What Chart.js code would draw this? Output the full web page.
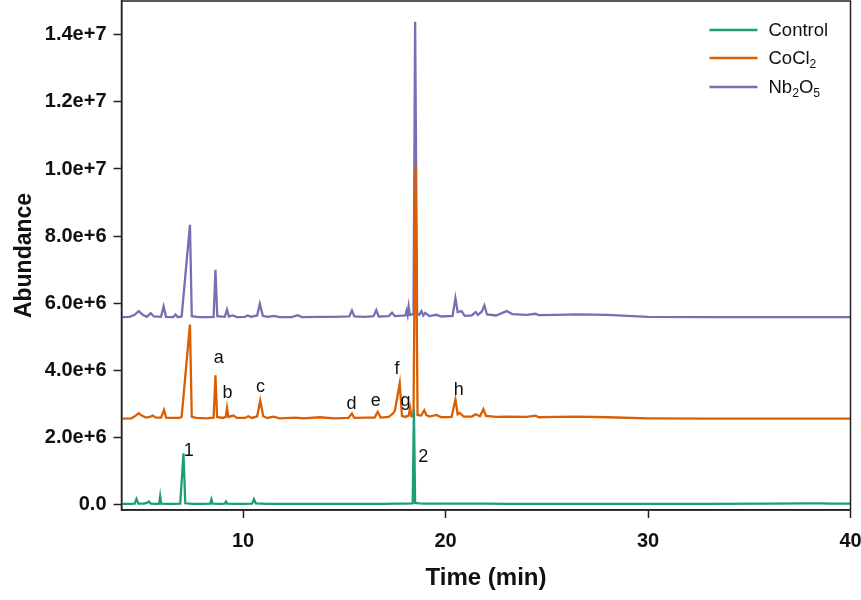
<!DOCTYPE html>
<html>
<head>
<meta charset="utf-8">
<title>Chromatogram</title>
<script src="https://cdn.jsdelivr.net/npm/chart.js@4.4.1/dist/chart.umd.min.js"></script>
<style>
  html, body { margin: 0; padding: 0; background: #fff; }
  .chart-wrap { width: 861px; height: 600px; position: relative; }
</style>
</head>
<body>
<div class="chart-wrap"><canvas id="chart"></canvas></div>
<script>
// abundance values are in millions (1e6)
const seriesLabels = ['Control', 'CoCl₂', 'Nb₂O₅'];
const seriesColors = ['#1b9e77', '#d95f02', '#7570b3'];

const controlTime = [4.0, 4.4, 4.65, 4.74, 4.83, 5.1, 5.25, 5.35, 5.45, 5.7, 5.86, 5.91, 5.96, 6.3, 6.6,
  6.9, 7.06, 7.15, 7.5, 8.0, 8.38, 8.44, 8.5, 8.9, 9.1, 9.16, 9.22, 9.6, 10.0, 10.45, 10.54, 10.63,
  11.2, 12.0, 13.0, 14.0, 15.0, 16.0, 17.0, 17.6, 18.0, 18.38, 18.44, 18.5, 18.7, 19.0, 20.0, 21.0,
  22.0, 23.0, 25.0, 28.0, 30.0, 33.0, 36.0, 38.0, 38.5, 39.0, 40.0];
const controlAbundance = [0.03, 0.03, 0.04, 0.18, 0.04, 0.04, 0.06, 0.1, 0.04, 0.03, 0.04, 0.26, 0.04, 0.03, 0.03,
  0.04, 1.54, 0.05, 0.03, 0.03, 0.04, 0.17, 0.04, 0.03, 0.04, 0.1, 0.04, 0.03, 0.03, 0.04, 0.17, 0.05,
  0.03, 0.03, 0.03, 0.03, 0.03, 0.03, 0.03, 0.04, 0.04, 0.05, 2.85, 0.06, 0.05, 0.04, 0.04, 0.04,
  0.04, 0.03, 0.03, 0.03, 0.03, 0.03, 0.04, 0.05, 0.05, 0.04, 0.04];

const cocl2Time = [4.0, 4.5, 4.7, 4.85, 5.0, 5.2, 5.4, 5.54, 5.7, 5.95, 6.1, 6.2, 6.5, 6.85, 6.97, 7.38, 7.47,
  7.7, 8.2, 8.55, 8.64, 8.72, 9.0, 9.15, 9.21, 9.28, 9.52, 9.7, 10.1, 10.26, 10.45, 10.7, 10.85, 11.0,
  11.2, 11.52, 11.8, 12.6, 13.0, 13.8, 14.5, 15.2, 15.38, 15.5, 16.0, 16.5, 16.65, 16.8, 17.2, 17.4,
  17.5, 17.74, 17.85, 18.0, 18.18, 18.25, 18.32, 18.42, 18.52, 18.62, 18.8, 18.95, 19.05, 19.2, 19.55,
  19.8, 20.3, 20.49, 20.6, 20.7, 20.9, 21.3, 21.49, 21.7, 21.87, 22.0, 22.5, 23.0, 24.0, 24.45, 24.6,
  25.5, 26.5, 28.0, 30.0, 33.0, 36.0, 40.0];
const cocl2Abundance = [2.57, 2.58, 2.66, 2.73, 2.66, 2.6, 2.62, 2.66, 2.6, 2.6, 2.83, 2.6, 2.59, 2.59, 2.62, 5.37, 2.62,
  2.59, 2.58, 2.6, 3.86, 2.62, 2.59, 2.62, 2.89, 2.62, 2.66, 2.59, 2.59, 2.64, 2.59, 2.64, 3.11, 2.64,
  2.59, 2.63, 2.58, 2.6, 2.58, 2.61, 2.58, 2.59, 2.72, 2.59, 2.6, 2.6, 2.77, 2.6, 2.62, 2.72,
  2.8, 3.62, 2.65, 2.62, 2.66, 2.9, 2.64, 2.66, 10.1, 2.68, 2.66, 2.82, 2.68, 2.63, 2.68,
  2.61, 2.62, 3.14, 2.7, 2.74, 2.63, 2.63, 2.7, 2.64, 2.85, 2.65, 2.62, 2.63, 2.62, 2.66, 2.61,
  2.62, 2.63, 2.61, 2.58, 2.57, 2.57, 2.57];

const nb2o5Time = [4.0, 4.4, 4.65, 4.85, 5.05, 5.25, 5.44, 5.6, 5.95, 6.08, 6.2, 6.55, 6.67, 6.78, 6.97, 7.38,
  7.47, 7.8, 8.2, 8.55, 8.64, 8.73, 9.1, 9.21, 9.3, 9.49, 9.7, 10.1, 10.23, 10.4, 10.7, 10.83, 10.98,
  11.2, 11.52, 11.8, 12.4, 12.7, 12.9, 13.8, 14.5, 15.25, 15.38, 15.5, 16.0, 16.45, 16.58, 16.7, 17.2,
  17.36, 17.5, 18.02, 18.08, 18.13, 18.18, 18.24, 18.42, 18.5, 18.6, 18.7, 18.81, 18.9, 19.0, 19.2,
  19.55, 19.8, 20.35, 20.49, 20.6, 20.79, 20.95, 21.3, 21.49, 21.6, 21.79, 21.92, 22.05, 22.5, 23.02,
  23.3, 24.0, 24.45, 24.6, 25.5, 26.5, 28.0, 30.0, 33.0, 36.0, 40.0];
const nb2o5Abundance = [5.59, 5.6, 5.66, 5.77, 5.66, 5.6, 5.71, 5.61, 5.6, 5.91, 5.6, 5.59, 5.67, 5.59, 5.61, 8.34,
  5.62, 5.59, 5.59, 5.6, 7.0, 5.62, 5.6, 5.82, 5.61, 5.64, 5.59, 5.6, 5.64, 5.6, 5.64, 5.99, 5.63,
  5.6, 5.63, 5.59, 5.59, 5.65, 5.59, 5.6, 5.6, 5.61, 5.79, 5.61, 5.6, 5.62, 5.8, 5.61, 5.62,
  5.72, 5.62, 5.64, 5.78, 5.65, 5.91, 5.66, 5.68, 14.38, 5.7, 5.66, 5.77, 5.64, 5.72, 5.62,
  5.66, 5.61, 5.63, 6.16, 5.74, 5.77, 5.63, 5.64, 5.74, 5.66, 5.75, 5.94, 5.67, 5.64, 5.77,
  5.68, 5.66, 5.69, 5.65, 5.66, 5.67, 5.66, 5.6, 5.59, 5.59, 5.59];

const xTicks = [10, 20, 30, 40];
const yTicks = [0, 2, 4, 6, 8, 10, 12, 14];
const yTickLabels = ['0.0', '2.0e+6', '4.0e+6', '6.0e+6', '8.0e+6', '1.0e+7', '1.2e+7', '1.4e+7'];

const peakLabels = ['1', '2', 'a', 'b', 'c', 'd', 'e', 'f', 'g', 'h'];
const peakLabelTime = [7.32, 18.9, 8.8, 9.23, 10.87, 15.36, 16.56, 17.61, 18.02, 20.66];
const peakLabelAbundance = [1.61, 1.43, 4.38, 3.34, 3.52, 3.0, 3.08, 4.06, 3.08, 3.41];

const FONT = '"Liberation Sans", Arial, sans-serif';
const INK = '#111';
const SUBSCRIPTS = '₀₁₂₃₄₅₆₇₈₉';

const toPoints = (times, values) => times.map((t, i) => ({ x: t, y: values[i] }));

// draws text where unicode subscript digits are set small and lowered
function drawRichText(ctx, text, x, y, size) {
  const runs = [];
  for (const ch of text) {
    const sub = SUBSCRIPTS.indexOf(ch) >= 0;
    const c = sub ? String(SUBSCRIPTS.indexOf(ch)) : ch;
    if (runs.length && runs[runs.length - 1].sub === sub) runs[runs.length - 1].text += c;
    else runs.push({ sub, text: c });
  }
  let cursor = x;
  runs.forEach((run) => {
    const s = run.sub ? size * 0.66 : size;
    ctx.font = `${s}px ${FONT}`;
    ctx.fillText(run.text, cursor, run.sub ? y + size * 0.32 : y);
    cursor += ctx.measureText(run.text).width;
  });
}

const framePlugin = {
  id: 'frame',
  afterDatasetsDraw(chart) {
    const { ctx, chartArea } = chart;
    ctx.save();
    ctx.strokeStyle = '#222';
    ctx.lineWidth = 1.5;
    ctx.strokeRect(chartArea.left, chartArea.top, chartArea.right - chartArea.left, chartArea.bottom - chartArea.top);
    ctx.restore();
  },
};

const peakLabelPlugin = {
  id: 'peakLabels',
  afterDatasetsDraw(chart) {
    const { ctx, scales } = chart;
    ctx.save();
    ctx.fillStyle = INK;
    ctx.font = `18px ${FONT}`;
    ctx.textAlign = 'center';
    ctx.textBaseline = 'middle';
    peakLabels.forEach((label, i) => {
      ctx.fillText(label, scales.x.getPixelForValue(peakLabelTime[i]), scales.y.getPixelForValue(peakLabelAbundance[i]));
    });
    ctx.restore();
  },
};

const legendPlugin = {
  id: 'insideLegend',
  afterDraw(chart) {
    const { ctx, chartArea } = chart;
    const rows = [29, 57, 86];
    ctx.save();
    ctx.textBaseline = 'middle';
    ctx.fillStyle = INK;
    chart.data.datasets.forEach((ds, i) => {
      const y = chartArea.top + rows[i];
      ctx.strokeStyle = ds.borderColor;
      ctx.lineWidth = 2.5;
      ctx.beginPath();
      ctx.moveTo(chartArea.right - 141, y);
      ctx.lineTo(chartArea.right - 93, y);
      ctx.stroke();
      drawRichText(ctx, ds.label, chartArea.right - 82, y + 1, 18.5);
    });
    ctx.restore();
  },
};

new Chart(document.getElementById('chart'), {
  type: 'line',
  data: {
    datasets: [
      { label: seriesLabels[0], data: toPoints(controlTime, controlAbundance), borderColor: seriesColors[0] },
      { label: seriesLabels[1], data: toPoints(cocl2Time, cocl2Abundance), borderColor: seriesColors[1] },
      { label: seriesLabels[2], data: toPoints(nb2o5Time, nb2o5Abundance), borderColor: seriesColors[2] },
    ],
  },
  options: {
    responsive: true,
    maintainAspectRatio: false,
    animation: false,
    layout: { padding: { top: 1, right: 10.5, left: 0, bottom: 0 } },
    elements: {
      line: { borderWidth: 2.3, tension: 0 },
      point: { radius: 0, hoverRadius: 0 },
    },
    plugins: {
      legend: { display: false },
      tooltip: { enabled: false },
    },
    scales: {
      x: {
        type: 'linear',
        min: 4,
        max: 40,
        afterBuildTicks: (scale) => { scale.ticks = xTicks.map((v) => ({ value: v })); },
        afterFit: (scale) => {
          scale.height = 90;
          scale.paddingLeft = 0;
          scale.paddingRight = 0;
        },
        grid: { display: true, drawOnChartArea: false, tickLength: 8, tickWidth: 1.5, tickColor: '#222' },
        border: { display: true, color: '#222', width: 1.5 },
        ticks: {
          padding: 11,
          color: INK,
          font: { family: FONT, size: 20, weight: 'bold' },
          callback: (value) => String(value),
        },
        title: {
          display: true,
          text: 'Time (min)',
          color: INK,
          font: { family: FONT, size: 24, weight: 'bold' },
          padding: { top: 0, bottom: 7 },
        },
      },
      y: {
        type: 'linear',
        min: -0.15,
        max: 15,
        afterBuildTicks: (scale) => { scale.ticks = yTicks.map((v) => ({ value: v })); },
        afterFit: (scale) => {
          scale.width = 121.5;
          scale.paddingTop = 0;
          scale.paddingBottom = 0;
        },
        grid: { display: true, drawOnChartArea: false, tickLength: 8, tickWidth: 1.5, tickColor: '#222' },
        border: { display: true, color: '#222', width: 1.5 },
        ticks: {
          padding: 7,
          color: INK,
          font: { family: FONT, size: 20, weight: 'bold' },
          callback: (value, index) => yTickLabels[index],
        },
        title: {
          display: true,
          text: 'Abundance',
          color: INK,
          font: { family: FONT, size: 23, weight: 'bold' },
          padding: { top: 11, bottom: 0 },
        },
      },
    },
  },
  plugins: [framePlugin, peakLabelPlugin, legendPlugin],
});
</script>
</body>
</html>
